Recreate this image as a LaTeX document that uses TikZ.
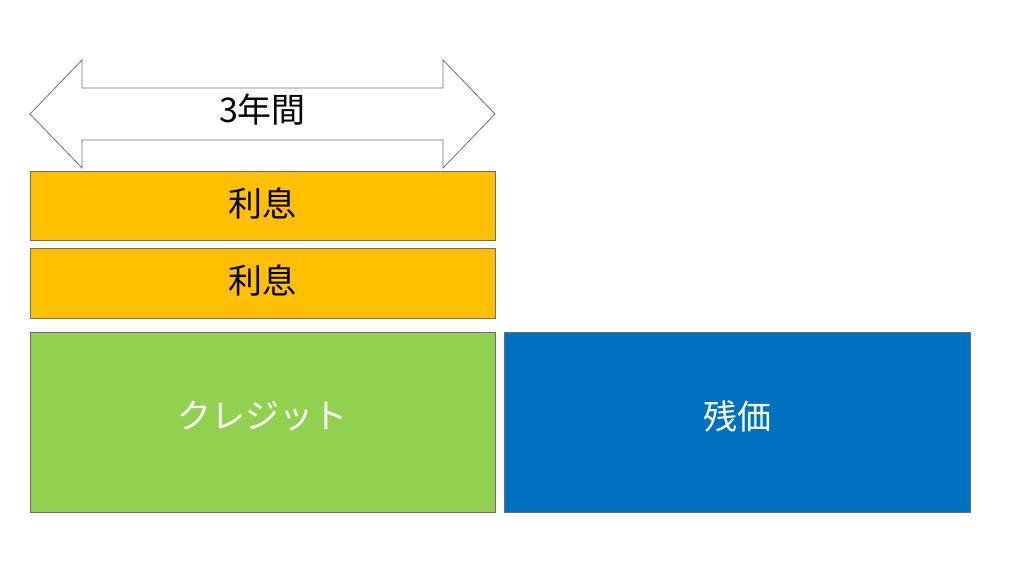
\documentclass[tikz,border=0pt]{standalone}
\usepackage{fontspec}
\newfontfamily\jp{Noto Sans CJK JP}
\definecolor{org}{HTML}{FFC000}
\definecolor{grn}{HTML}{92D050}
\definecolor{blu}{HTML}{0070C0}
\definecolor{edge}{HTML}{6E6E6E}
\begin{document}
\begin{tikzpicture}[x=1pt,y=-1pt,
  box/.style={draw=edge,line width=0.6pt},
  lbl/.style={font=\jp\fontsize{34}{40}\selectfont}]
\useasboundingbox (0,0) rectangle (1024,576);
\draw[draw=edge,fill=white,line width=0.8pt] (30,114) -- (82,60) -- (82,88) -- (443,88) -- (443,60) -- (495,114) -- (443,168) -- (443,140) -- (82,140) -- (82,168) -- cycle;
\node[lbl] (span) at (262.5,110) {3年間};
\filldraw[box,fill=org] (30,171) rectangle (495,240);
\node[lbl] (r1) at (262.5,203) {利息};
\filldraw[box,fill=org] (30,248) rectangle (495,318);
\node[lbl] (r2) at (262.5,280) {利息};
\filldraw[box,fill=grn] (30,332) rectangle (495,512);
\node[lbl,text=white] (cr) at (262.5,416) {クレジット};
\filldraw[box,fill=blu] (504,332) rectangle (970,512);
\node[lbl,text=white] (zk) at (737,416) {残価};
\end{tikzpicture}
\end{document}
